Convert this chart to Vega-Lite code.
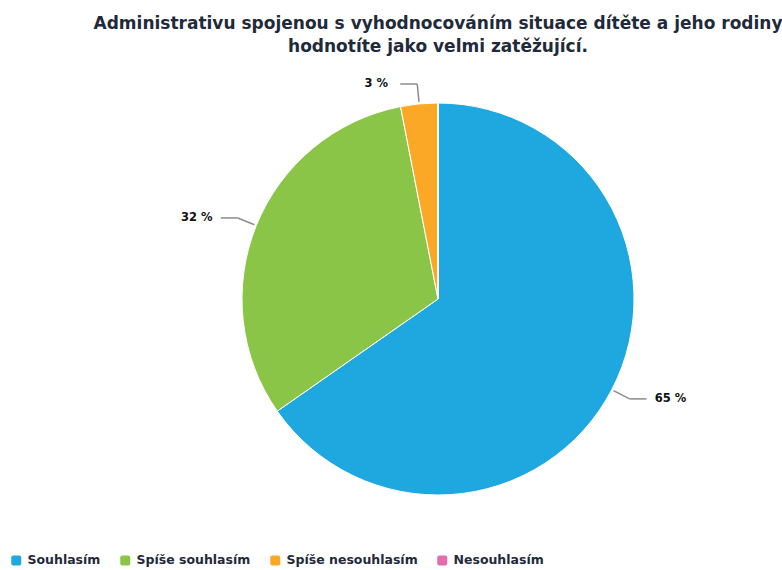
{
  "$schema": "https://vega.github.io/schema/vega-lite/v6.json",
  "autosize": {"type": "none"},
  "padding": {"left": 94, "top": 70, "right": 0, "bottom": 42},
  "width": 688,
  "height": 458,
  "background": "white",
  "title": {
    "text": ["Administrativu spojenou s vyhodnocováním situace dítěte a jeho rodiny", "hodnotíte jako velmi zatěžující."],
    "font": "DejaVu Sans",
    "fontSize": 17,
    "fontWeight": "bold",
    "lineHeight": 23,
    "color": "#1f2a3a",
    "anchor": "middle",
    "offset": 14
  },
  "config": {"view": {"stroke": null}},
  "data": {
    "values": [
      {"answer": "Souhlasím", "count": 64, "order": 1},
      {"answer": "Spíše souhlasím", "count": 31, "order": 2},
      {"answer": "Spíše nesouhlasím", "count": 3, "order": 3},
      {"answer": "Nesouhlasím", "count": 0, "order": 4}
    ]
  },
  "layer": [
    {
      "mark": {"type": "arc", "outerRadius": 196, "stroke": "white", "strokeWidth": 1},
      "encoding": {
        "theta": {"field": "count", "type": "quantitative", "stack": true},
        "order": {"field": "order", "type": "quantitative"},
        "color": {
          "field": "answer",
          "type": "nominal",
          "sort": ["Souhlasím", "Spíše souhlasím", "Spíše nesouhlasím", "Nesouhlasím"],
          "scale": {
            "domain": ["Souhlasím", "Spíše souhlasím", "Spíše nesouhlasím", "Nesouhlasím"],
            "range": ["#1fa8e0", "#8bc548", "#fba826", "#e46eab"]
          },
          "legend": {
            "title": null,
            "orient": "none",
            "direction": "horizontal",
            "legendX": -84,
            "legendY": 484,
            "labelFont": "DejaVu Sans",
            "labelFontSize": 12.5,
            "labelFontWeight": "bold",
            "labelColor": "#1f2a3a",
            "labelOffset": 5,
            "columnPadding": 18,
            "symbolType": "M-0.6,-1H0.6Q1,-1 1,-0.6V0.6Q1,1 0.6,1H-0.6Q-1,1 -1,0.6V-0.6Q-1,-1 -0.6,-1Z",
            "symbolSize": 100,
            "symbolStrokeWidth": 0,
            "symbolOpacity": 1
          }
        }
      }
    },
    {
      "transform": [
        {"joinaggregate": [{"op": "sum", "field": "count", "as": "total"}]},
        {"window": [{"op": "sum", "field": "count", "as": "cum"}], "sort": [{"field": "order", "order": "ascending"}], "frame": [null, 0]},
        {"filter": "datum.count > 0"},
        {"calculate": "2 * PI * (datum.cum - datum.count / 2) / datum.total", "as": "mid"},
        {"calculate": "sin(datum.mid) > 0 ? 1 : -1", "as": "side"},
        {"calculate": "198 * sin(datum.mid)", "as": "x0"},
        {"calculate": "198 * cos(datum.mid)", "as": "y0"},
        {"calculate": "216 * sin(datum.mid)", "as": "x1"},
        {"calculate": "216 * cos(datum.mid)", "as": "y1"},
        {"calculate": "datum.x1 + datum.side * 17", "as": "x2"},
        {"calculate": "datum.x2 + datum.side * 24", "as": "lx"},
        {"calculate": "round(datum.count / datum.total * 100) + ' %'", "as": "label"}
      ],
      "layer": [
        {
          "mark": {"type": "rule", "color": "#8c8c8c", "strokeWidth": 1.5},
          "encoding": {
            "x": {"field": "x0", "type": "quantitative", "scale": {"domain": [-344, 344], "nice": false, "zero": false}, "axis": null},
            "y": {"field": "y0", "type": "quantitative", "scale": {"domain": [-229, 229], "nice": false, "zero": false}, "axis": null},
            "x2": {"field": "x1"},
            "y2": {"field": "y1"}
          }
        },
        {
          "mark": {"type": "rule", "color": "#8c8c8c", "strokeWidth": 1.5},
          "encoding": {
            "x": {"field": "x1", "type": "quantitative", "axis": null},
            "y": {"field": "y1", "type": "quantitative", "axis": null},
            "x2": {"field": "x2"}
          }
        },
        {
          "mark": {"type": "text", "font": "DejaVu Sans", "fontSize": 11.5, "fontWeight": "bold", "color": "#111111", "align": "center", "baseline": "middle"},
          "encoding": {
            "x": {"field": "lx", "type": "quantitative", "axis": null},
            "y": {"field": "y1", "type": "quantitative", "axis": null},
            "text": {"field": "label"}
          }
        }
      ]
    }
  ],
  "resolve": {"scale": {"x": "shared", "y": "shared"}}
}
